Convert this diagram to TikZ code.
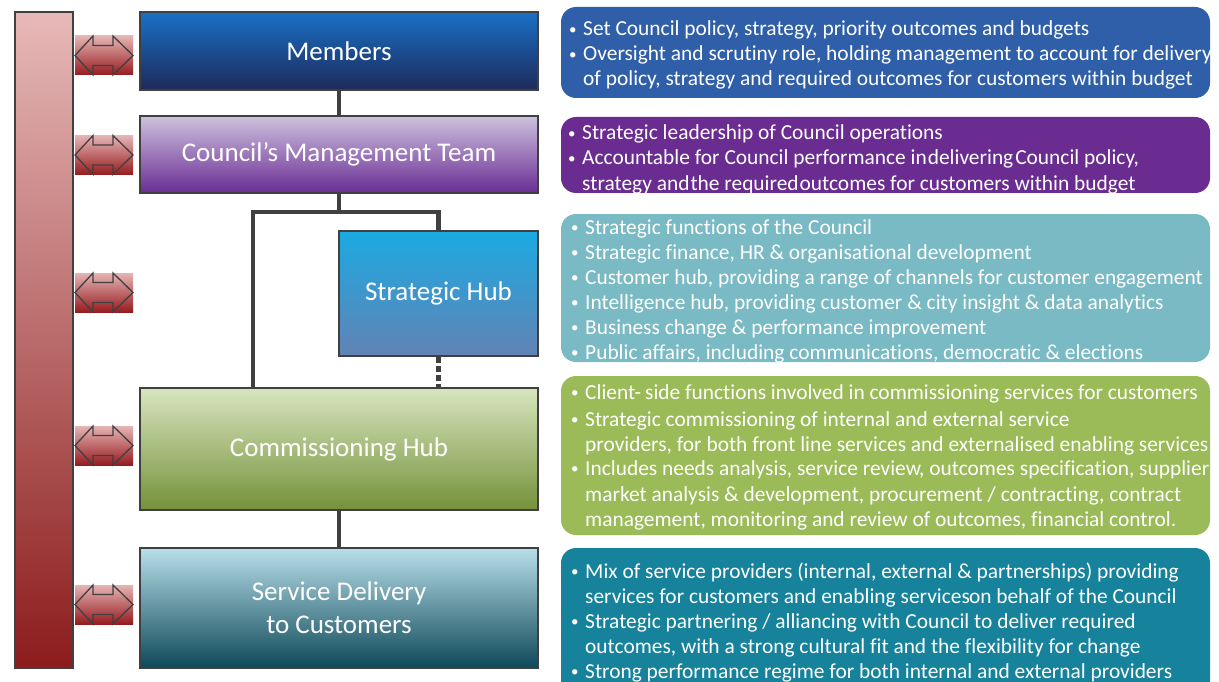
\documentclass[tikz,border=0pt]{standalone}
\usepackage{fontspec}
\setmainfont[Ligatures=NoCommon]{Carlito}
\definecolor{lnc}{HTML}{404040}
\definecolor{barTop}{HTML}{E6B9B8}
\definecolor{barBot}{HTML}{8C1C1C}
\definecolor{arTop}{HTML}{E6B4B4}
\definecolor{arBot}{HTML}{961C20}
\definecolor{memTop}{HTML}{1A70C6}
\definecolor{memBot}{HTML}{1D2A5A}
\definecolor{cmtTop}{HTML}{CDC1DE}
\definecolor{cmtBot}{HTML}{6A2D94}
\definecolor{shTop}{HTML}{1BAAE2}
\definecolor{shBot}{HTML}{6282B4}
\definecolor{chTop}{HTML}{D8E5BE}
\definecolor{chBot}{HTML}{74913A}
\definecolor{sdTop}{HTML}{B8DFE9}
\definecolor{sdBot}{HTML}{0E4859}
\definecolor{rOne}{HTML}{2F5FA8}
\definecolor{rTwo}{HTML}{6A2C90}
\definecolor{rThree}{HTML}{7ABAC4}
\definecolor{rFour}{HTML}{9BBB59}
\definecolor{rFive}{HTML}{16829B}
\tikzset{
  x=1pt, y=-1pt,
  hubbox/.style={draw=lnc, line width=1.2pt, text=white, font=\fontsize{27}{33}\selectfont, align=center, inner sep=0pt},
  infobox/.style={rounded corners=15pt, draw=none},
  bodytxt/.style={text=white, font=\fontsize{21.4}{25}\selectfont, anchor=base west, inner sep=0pt},
  conn/.style={draw=lnc, line width=4.5pt},
  dconn/.style={draw=lnc, line width=4.5pt, dash pattern=on 6pt off 3pt},
  arrowline/.style={draw=lnc, line width=1.3pt, line join=miter}
}
\newcommand{\bul}{\makebox[14pt][l]{\raisebox{1.5pt}{\fontsize{15}{15}\selectfont •}}}
\newcommand{\dblarrow}[2]{% name, center y
  \shade[top color=arTop, bottom color=arBot] (75,#2-19.5) rectangle (133,#2+19.5);
  \draw[arrowline] (75,#2) -- (93,#2-19.5) -- (93,#2-10) -- (113,#2-10) -- (113,#2-19.5) -- (133,#2)
     -- (113,#2+19.5) -- (113,#2+10) -- (93,#2+10) -- (93,#2+19.5) -- cycle;
  \coordinate (#1) at (104,#2);
}
\begin{document}
\begin{tikzpicture}
\useasboundingbox (0,0) rectangle (1219,682);
\clip (0,0) rectangle (1219,682);
% left bar
\shade[top color=barTop, bottom color=barBot, draw=lnc, line width=1.2pt] (15,12) rectangle (73,668);
\node[inner sep=0pt] (leftbar) at (44,340) {};
% arrows
\dblarrow{a1}{55.5}
\dblarrow{a2}{155}
\dblarrow{a3}{292.5}
\dblarrow{a4}{445.5}
\dblarrow{a5}{604.5}
% hub boxes
\node[hubbox, top color=memTop, bottom color=memBot, minimum width=398pt, minimum height=78pt] (mem) at (339,51) {Members};
\node[hubbox, top color=cmtTop, bottom color=cmtBot, minimum width=398pt, minimum height=77pt] (cmt) at (339,154.5) {Council’s Management Team};
\node[hubbox, top color=shTop, bottom color=shBot, minimum width=199pt, minimum height=125pt] (sh) at (438.5,293.5) {Strategic Hub};
\node[hubbox, top color=chTop, bottom color=chBot, minimum width=398pt, minimum height=122pt] (ch) at (339,449) {Commissioning Hub};
\node[hubbox, top color=sdTop, bottom color=sdBot, minimum width=398pt, minimum height=120pt, font=\fontsize{27}{33}\selectfont] (sd) at (339,608) {Service Delivery\\to Customers};
% connectors
\coordinate (j) at (339,212);
\coordinate (jl) at (253,212);
\coordinate (jr) at (438.5,212);
\coordinate (chl) at (253,388);
\coordinate (chr) at (438.5,388);
\draw[conn] (mem.south) -- (cmt.north);
\draw[conn] (cmt.south) -- (j);
\draw[conn, line cap=rect] (jl) -- (jr);
\draw[conn] (jl) -- (chl);
\draw[conn] (jr) -- (sh.north);
\draw[dconn] (sh.south) -- (chr);
\draw[conn] (ch.south) -- (sd.north);
% right info boxes
\fill[rOne, infobox] (561,7) rectangle (1210,98);
\node[inner sep=0pt] (r1) at (885,52) {};
\node[bodytxt] (r1a) at (569,36) {\bul Set Council policy, strategy, priority outcomes and budgets};
\node[bodytxt] (r1b) at (569,61) {\bul Oversight and scrutiny role, holding management to account for delivery};
\node[bodytxt] (r1c) at (583,86) {of policy, strategy and required outcomes for customers within budget};

\fill[rTwo, infobox] (561,117) rectangle (1210,193);
\node[inner sep=0pt] (r2) at (885,155) {};
\node[bodytxt] (r2a) at (568,140) {\bul Strategic leadership of Council operations};
\node[bodytxt] (r2b) at (568,165) {\bul Accountable for Council performance in\hspace{1pt}delivering\hspace{2pt}Council policy,};
\node[bodytxt] (r2c) at (582,190) {strategy and\hspace{1pt}the required\hspace{1pt}outcomes for customers within budget};

\fill[rThree, infobox] (561,214) rectangle (1210,362);
\node[inner sep=0pt] (r3) at (885,288) {};
\node[bodytxt] (r3a) at (571,234) {\bul Strategic functions of the Council};
\node[bodytxt] (r3b) at (571,259) {\bul Strategic finance, HR \& organisational development};
\node[bodytxt] (r3c) at (571,284) {\bul Customer hub, providing a range of channels for customer engagement};
\node[bodytxt] (r3d) at (571,309) {\bul Intelligence hub, providing customer \& city insight \& data analytics};
\node[bodytxt] (r3e) at (571,334) {\bul Business change \& performance improvement};
\node[bodytxt] (r3f) at (571,359) {\bul Public affairs, including communications, democratic \& elections};

\fill[rFour, infobox] (561,376) rectangle (1210,535);
\node[inner sep=0pt] (r4) at (885,455) {};
\node[bodytxt] (r4a) at (571,399) {\bul Client-\hspace{4pt}side functions involved in commissioning services for customers};
\node[bodytxt] (r4b) at (571,426) {\bul Strategic commissioning of internal and external service};
\node[bodytxt] (r4c) at (585,451) {providers, for both front line services and externalised enabling services};
\node[bodytxt] (r4d) at (571,475) {\bul Includes needs analysis, service review, outcomes specification, supplier};
\node[bodytxt] (r4e) at (585,501) {market analysis \& development, procurement / contracting, contract};
\node[bodytxt] (r4f) at (585,526) {management, monitoring and review of outcomes, financial control.};

\fill[rFive, infobox] (561,548) rectangle (1210,695);
\node[inner sep=0pt] (r5) at (885,615) {};
\node[bodytxt] (r5a) at (571,578) {\bul Mix of service providers (internal, external \& partnerships) providing};
\node[bodytxt] (r5b) at (585,603) {services for customers and enabling services\hspace{-1pt}on behalf of the Council};
\node[bodytxt] (r5c) at (571,628) {\bul Strategic partnering / alliancing with Council to deliver required};
\node[bodytxt] (r5d) at (585,653) {outcomes, with a strong cultural fit and the flexibility for change};
\node[bodytxt] (r5e) at (571,678) {\bul Strong performance regime for both internal and external providers};
\end{tikzpicture}
\end{document}
